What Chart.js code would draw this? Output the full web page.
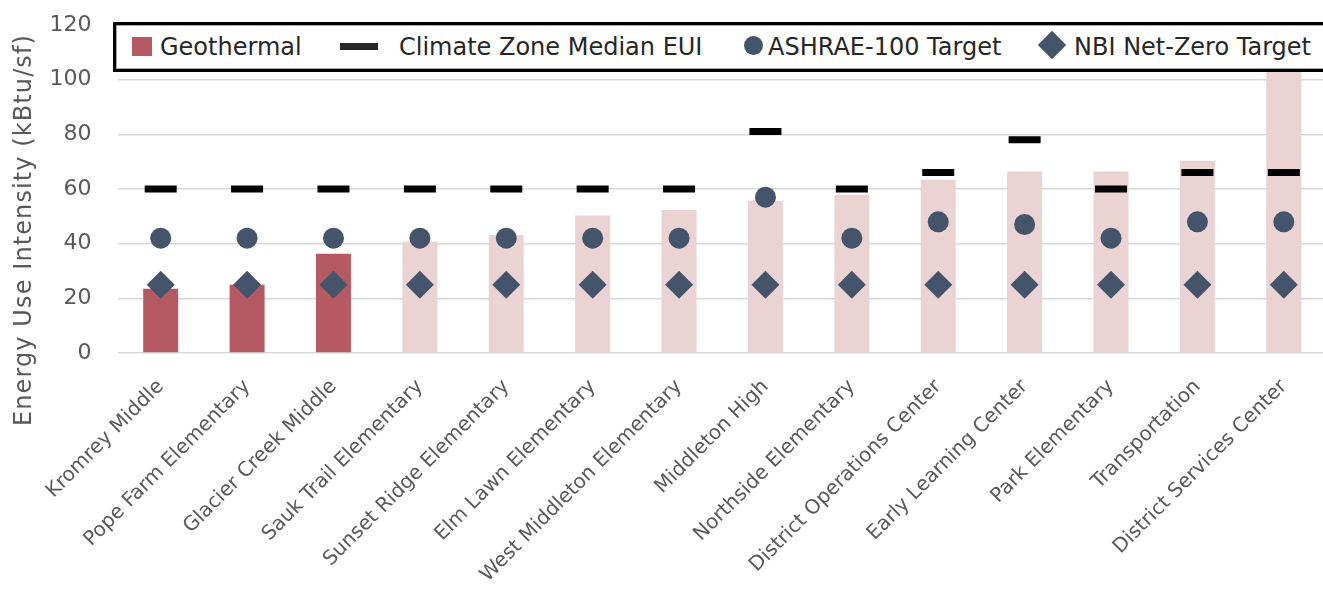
<!DOCTYPE html>
<html>
<head>
<meta charset="utf-8">
<script src="https://cdn.jsdelivr.net/npm/chart.js@4.4.1/dist/chart.umd.min.js"></script>
<style>
  html, body { margin: 0; padding: 0; background: #fff; overflow: hidden; width: 1323px; height: 591px; }
  #wrap { position: relative; width: 1327px; height: 591px; overflow: hidden; }
  #chart { position: absolute; left: 0; top: 0; }
  #legend {
    position: absolute; left: 113px; top: 22px; width: 1260px; height: 44px;
    border: 3px solid #000; background: #fff; box-shadow: inset 0 0 0 1px #a6a6a6;
    font-family: "DejaVu Sans", sans-serif; font-size: 24px; color: #262626;
  }
  #legend .mk { position: absolute; }
  #legend .tx { position: absolute; top: 0; height: 44px; line-height: 44px; white-space: nowrap; }
</style>
</head>
<body>
<div id="wrap">
  <canvas id="chart" width="1327" height="591"></canvas>
  <div id="legend"></div>
</div>
<script>
// Buildings along the x axis
const categories = [
  "Kromrey Middle", "Pope Farm Elementary", "Glacier Creek Middle", "Sauk Trail Elementary",
  "Sunset Ridge Elementary", "Elm Lawn Elementary", "West Middleton Elementary", "Middleton High",
  "Northside Elementary", "District Operations Center", "Early Learning Center", "Park Elementary",
  "Transportation", "District Services Center"
];
// Measured EUI per building (kBtu/sf)
const buildingEUI = [23.5, 25, 36.3, 40.8, 43.2, 50.3, 52.3, 55.7, 57.9, 63.4, 66.4, 66.4, 70.3, 104.8];
// Which buildings are heated/cooled with geothermal
const hasGeothermal = [true, true, true, false, false, false, false, false, false, false, false, false, false, false];
const climateZoneMedian = [60, 60, 60, 60, 60, 60, 60, 81, 60, 66, 78, 60, 66, 66];
const ashrae100Target = [42, 42, 42, 42, 42, 42, 42, 57, 42, 48, 47, 42, 48, 48];
const nbiNetZeroTarget = [25, 25, 25, 25, 25, 25, 25, 25, 25, 25, 25, 25, 25, 25];
const yTicks = [0, 20, 40, 60, 80, 100, 120];
const seriesLabels = ["Geothermal", "Climate Zone Median EUI", "ASHRAE-100 Target", "NBI Net-Zero Target"];
const yTitle = "Energy Use Intensity (kBtu/sf)";

const GEO_RED = "#B55A62";
const GEO_LIGHT = "#EBD3D4";
const SLATE = "#44546A";
const GRID = "#D9D9D9";
const TEXT_GRAY = "#595959";
const FONT = '"DejaVu Sans", sans-serif';

// Rotated y-axis title, placed a little below the plot's vertical centre
const yTitlePlugin = {
  id: "yTitle",
  afterDraw(chart) {
    const ctx = chart.ctx;
    ctx.save();
    ctx.translate(25, 230);
    ctx.rotate(-Math.PI / 2);
    ctx.font = "24px " + FONT;
    ctx.letterSpacing = "1.1px";
    ctx.fillStyle = TEXT_GRAY;
    ctx.textAlign = "center";
    ctx.textBaseline = "middle";
    ctx.fillText(yTitle, 0, 0);
    ctx.restore();
  }
};

new Chart(document.getElementById("chart"), {
  data: {
    labels: categories,
    datasets: [
      {
        type: "bar",
        label: seriesLabels[0],
        data: buildingEUI,
        backgroundColor: hasGeothermal.map(g => g ? GEO_RED : GEO_LIGHT),
        barPercentage: 0.405,
        categoryPercentage: 1,
        order: 4
      },
      {
        type: "line",
        label: seriesLabels[1],
        data: climateZoneMedian,
        showLine: false,
        pointStyle: "line",
        pointRadius: 16,
        pointBorderWidth: 7,
        pointBorderColor: "#000",
        borderColor: "#000",
        order: 1
      },
      {
        type: "line",
        label: seriesLabels[2],
        data: ashrae100Target,
        showLine: false,
        pointStyle: "circle",
        pointRadius: 10.5,
        pointBorderWidth: 0,
        pointBackgroundColor: SLATE,
        borderColor: SLATE,
        order: 2
      },
      {
        type: "line",
        label: seriesLabels[3],
        data: nbiNetZeroTarget,
        showLine: false,
        pointStyle: "rectRot",
        pointRadius: 14,
        pointBorderWidth: 0,
        pointBackgroundColor: SLATE,
        borderColor: SLATE,
        order: 3
      }
    ]
  },
  options: {
    responsive: false,
    animation: false,
    devicePixelRatio: 1,
    layout: { autoPadding: false, padding: { top: 25, left: 0, right: 0, bottom: 0 } },
    plugins: { legend: { display: false }, tooltip: { enabled: false } },
    scales: {
      x: {
        grid: { display: false },
        border: { display: false },
        ticks: {
          color: TEXT_GRAY,
          font: { family: FONT, size: 20 },
          minRotation: 45,
          maxRotation: 45,
          autoSkip: false,
          padding: 14
        },
        afterFit(scale) {
          scale.height = 238;
          scale.paddingLeft = 0;
          scale.paddingRight = 0;
        }
      },
      y: {
        min: yTicks[0],
        max: yTicks[yTicks.length - 1],
        afterBuildTicks(scale) { scale.ticks = yTicks.map(v => ({ value: v })); },
        grid: { color: GRID, lineWidth: 1.5, drawTicks: false },
        border: { display: false },
        ticks: {
          color: TEXT_GRAY,
          font: { family: FONT, size: 22 },
          padding: 26
        },
        afterFit(scale) {
          scale.width = 117.5;
          scale.paddingTop = 0;
          scale.paddingBottom = 0;
        }
      }
    }
  },
  plugins: [yTitlePlugin]
});

// Legend strip drawn over the top of the plot
const legend = document.getElementById("legend");
const legendItems = [
  { mark: `left:16px;top:12px;width:20px;height:19px;background:${GEO_RED}`, textLeft: 44 },
  { mark: `left:224px;top:18px;width:38px;height:7px;background:#262626`, textLeft: 283 },
  { mark: `left:628px;top:11px;width:19px;height:19px;border-radius:50%;background:${SLATE}`, textLeft: 652 },
  { mark: `left:926px;top:10px;width:20px;height:20px;transform:rotate(45deg);background:${SLATE}`, textLeft: 958 }
];
legendItems.forEach((it, i) => {
  const m = document.createElement("div");
  m.className = "mk";
  m.style.cssText = it.mark;
  legend.appendChild(m);
  const t = document.createElement("div");
  t.className = "tx";
  t.style.left = it.textLeft + "px";
  t.textContent = seriesLabels[i];
  legend.appendChild(t);
});
</script>
</body>
</html>
